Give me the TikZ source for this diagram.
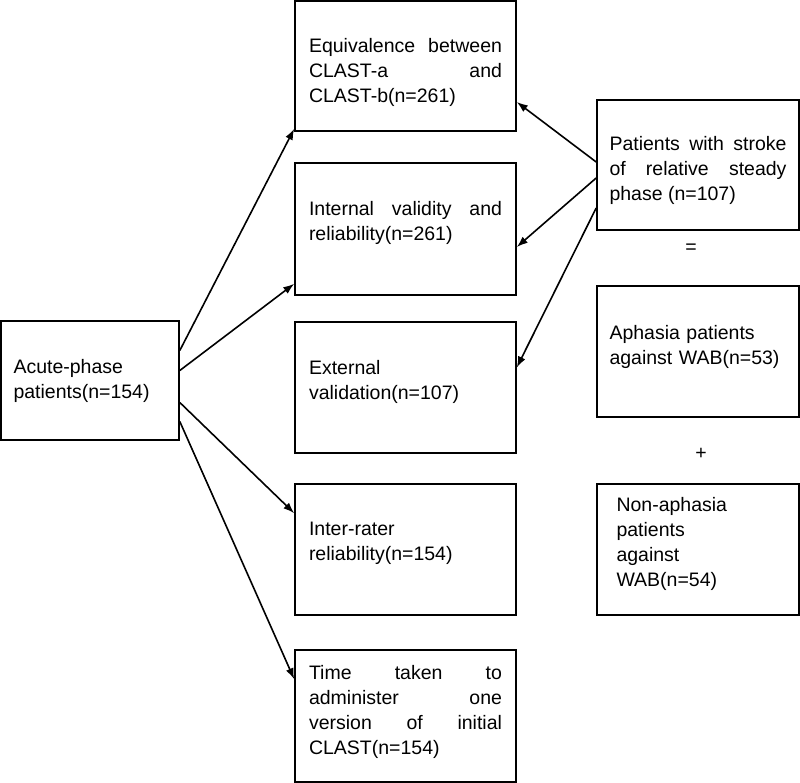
\documentclass[tikz,border=0pt]{standalone}
\usepackage{fontspec}
\setmainfont{Liberation Sans}
\usepackage{xcolor}
\usepackage{tikz}
\usetikzlibrary{arrows.meta}
\tolerance=10000
\hbadness=10000
\hyphenpenalty=10000
\exhyphenpenalty=10000
\newcommand{\lift}[1]{\rule[-#1]{0pt}{#1}}

\begin{document}
\begin{tikzpicture}[x=1pt,y=-1pt,>={Latex[length=11pt,width=8pt]},
    box/.style={draw,line width=1.6pt,rectangle,inner sep=0pt,
      minimum width=221pt,minimum height=131pt,text width=193pt,align=justify,
      font=\fontsize{19.5}{25}\selectfont},
    sidebox/.style={box,minimum width=202pt,text width=177pt},
    link/.style={->,line width=1.6pt}]
        \useasboundingbox (0,0) rectangle (800,783);
        % left
        \node[box,minimum width=178pt,minimum height=119pt,text width=153pt,align=left] (acute) at (90,380.5) {Acute-phase\\patients(n=154)};
        % middle column
        \node[box,minimum height=130pt] (equiv) at (405.5,66) {Equivalence between\linebreak CLAST-a and\linebreak CLAST-b(n=261)\\[-34pt]};
        \node[box,minimum height=132pt] (internal) at (405.5,229) {Internal validity and\linebreak reliability(n=261)\\[-8pt]};
        \node[box,align=left] (external) at (405.5,387.5) {External\\validation(n=107)\lift{16pt}};
        \node[box,align=left] (inter) at (405.5,549.5) {Inter-rater\\reliability(n=154)\lift{16pt}};
        \node[box,minimum height=132pt] (time) at (405.5,716) {Time taken to\linebreak administer one\linebreak version of initial\linebreak CLAST(n=154)\\[-12pt]};
        % right column
        \node[sidebox,minimum height=130pt] (stroke) at (698,165) {Patients with stroke\linebreak of relative steady\linebreak phase (n=107)\\[-32pt]};
        \node[font=\fontsize{19.5}{25}\selectfont] (eq) at (691,249) {=};
        \node[sidebox,align=left] (aphasia) at (698,351.5) {Aphasia patients\\against WAB(n=53)\lift{14pt}};
        \node[font=\fontsize{19.5}{25}\selectfont] (plus) at (701,454) {+};
        \node[sidebox,text width=163pt,align=left] (nonaph) at (698,549.5) {Non-aphasia\\patients\\against\\WAB(n=54)\lift{16pt}};
        % arrows
        \draw[link] ([yshift=30pt]acute.east) -- ([yshift=3pt]equiv.south west);
        \draw[link] ([yshift=10pt]acute.east) -- ([yshift=12pt]internal.south west);
        \draw[link] ([yshift=-22pt]acute.east) -- ([yshift=-30pt]inter.north west);
        \draw[link] ([yshift=-41pt]acute.east) -- ([yshift=-30pt]time.north west);
        \draw[link] ([yshift=3pt]stroke.west) -- ([yshift=-36pt]equiv.east);
        \draw[link] ([yshift=-13pt]stroke.west) -- ([yshift=-18pt]internal.east);
        \draw[link] ([yshift=-43pt]stroke.west) -- ([yshift=20pt]external.east);
      \end{tikzpicture}
\end{document}
